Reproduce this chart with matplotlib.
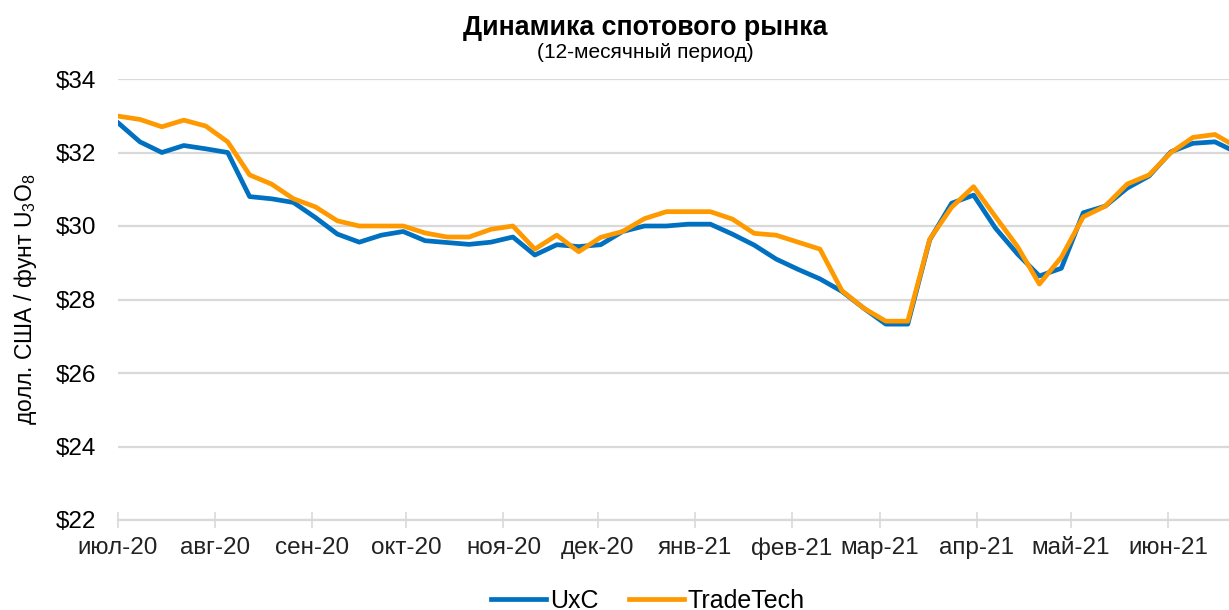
import matplotlib
matplotlib.use("Agg")
import matplotlib.pyplot as plt
from matplotlib.ticker import FuncFormatter
import pandas as pd

plt.rcParams['font.family'] = ['Liberation Sans', 'DejaVu Sans']
plt.rcParams['mathtext.fontset'] = 'custom'
plt.rcParams['mathtext.rm'] = 'Liberation Sans'
plt.rcParams['mathtext.it'] = 'Liberation Sans'

# weekly observation dates
dates = pd.date_range("2020-07-01", periods=52, freq="7D")

uxc = [32.81, 32.29, 32.0, 32.19, 32.1, 32.0, 30.8, 30.74, 30.64, 30.23,
       29.78, 29.56, 29.75, 29.85, 29.6, 29.55, 29.5, 29.56, 29.7, 29.21,
       29.49, 29.44, 29.49, 29.85, 30.0, 30.0, 30.05, 30.05, 29.78, 29.48,
       29.1, 28.82, 28.56, 28.22, 27.76, 27.33, 27.33, 29.62, 30.62, 30.84,
       29.94, 29.24, 28.64, 28.85, 30.36, 30.54, 31.03, 31.36, 32.02, 32.25,
       32.29, 32.0]
tradetech = [32.99, 32.9, 32.7, 32.88, 32.72, 32.29, 31.39, 31.14, 30.74, 30.52,
             30.14, 30.0, 30.0, 30.0, 29.81, 29.7, 29.7, 29.91, 30.0, 29.37,
             29.75, 29.3, 29.69, 29.85, 30.2, 30.39, 30.39, 30.39, 30.19, 29.8,
             29.75, 29.56, 29.37, 28.24, 27.76, 27.41, 27.41, 29.64, 30.51, 31.07,
             30.25, 29.44, 28.42, 29.15, 30.25, 30.54, 31.14, 31.39, 32.0, 32.41,
             32.49, 32.15]

month_ticks = pd.date_range("2020-07-01", periods=12, freq="MS")
month_labels = ["июл-20", "авг-20", "сен-20", "окт-20", "ноя-20", "дек-20",
                "янв-21", "фев-21", "мар-21", "апр-21", "май-21", "июн-21"]
y_ticks = [22, 24, 26, 28, 30, 32, 34]

W, H = 1229, 610
fig = plt.figure(figsize=(W / 100, H / 100), dpi=100)
ax = fig.add_axes([118 / W, 1 - 520 / H, 1 - 118 / W, (520 - 79) / H])

grid_c = "#D9D9D9"
ax.plot(dates, uxc, color="#0070C0", lw=3.4, label="UxC", solid_joinstyle="round", zorder=3)
ax.plot(dates, tradetech, color="#FF9900", lw=3.4, label="TradeTech", solid_joinstyle="round", zorder=4)

ax.set_ylim(22, 34)
ax.set_yticks(y_ticks)
ax.yaxis.set_major_formatter(FuncFormatter(lambda v, p: f"${v:.0f}"))
left = pd.Timestamp("2020-07-01")
ax.set_xlim(left, left + pd.Timedelta(days=354.5))
ax.set_xticks(month_ticks)
ax.set_xticklabels(month_labels)

ax.grid(axis="y", color=grid_c, lw=1.6, zorder=0)
ax.set_axisbelow(True)
for s in ["top", "right", "left"]:
    ax.spines[s].set_visible(False)
ax.spines["bottom"].set_color(grid_c)
ax.spines["bottom"].set_linewidth(1.6)
ax.tick_params(axis="y", length=0, pad=15.5, labelsize=17.5, labelcolor="black")
ax.tick_params(axis="x", direction="inout", length=11, width=1.2, color=grid_c,
               pad=7, labelsize=17.5, labelcolor="#222222")

ax.set_ylabel("долл. США / фунт U$_3$O$_8$", fontsize=16.5, labelpad=12)

cx = 645 / W
fig.text(cx, 1 - 28 / H, "Динамика спотового рынка", ha="center", va="center",
         fontsize=19.3, fontweight="bold")
fig.text(cx, 1 - 53 / H, "(12-месячный период)", ha="center", va="center", fontsize=15)

fig.legend(loc="center", bbox_to_anchor=(648 / W, 1 - 601 / H), ncol=2, frameon=False,
           fontsize=18, handlelength=2.2, handletextpad=0.15, columnspacing=1.2)

fig.savefig("out.png", dpi=100)
